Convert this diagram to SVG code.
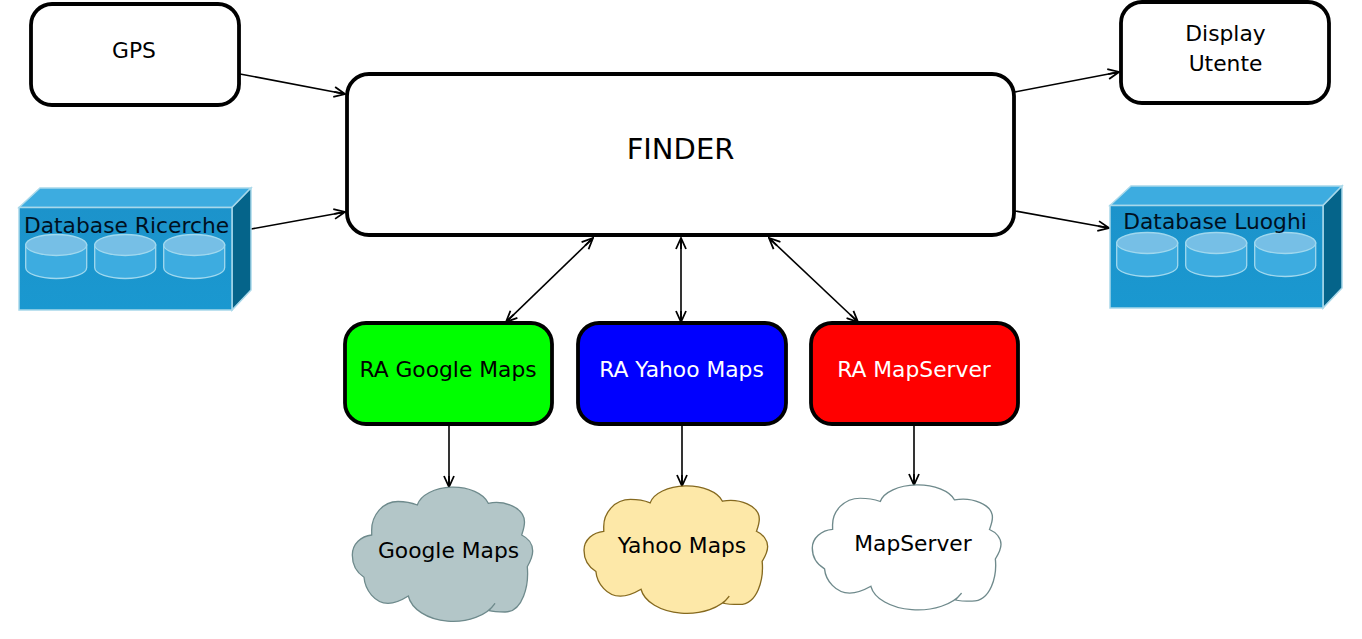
<svg xmlns="http://www.w3.org/2000/svg" width="1362" height="639" viewBox="0 0 1362 639">
<style>
text{font-family:"DejaVu Sans",sans-serif;fill:#000;text-anchor:middle}
.box{fill:#fff;stroke:#000;stroke-width:3.8}
.l{font-size:21.800px}
.lw{font-size:21.800px;fill:#fff}
.db{font-size:21.800px;fill:#00101f}
.c{stroke-width:1.300;vector-effect:non-scaling-stroke}
.con line{stroke:#000;stroke-width:1.600;fill:none;marker-end:url(#a)}
.con line.two{marker-start:url(#a)}
.cyl{fill:#3dace0;stroke:#a0d8ee;stroke-width:1.300}
.cylt{fill:#76bfe6;stroke:#a0d8ee;stroke-width:1.300}
</style>
<defs>
<marker id="a" viewBox="-12 -6 13 12" refX="0" refY="0" markerUnits="userSpaceOnUse" markerWidth="13" markerHeight="12" orient="auto-start-reverse">
<path d="M-11 -5L0 0L-11 5M-11 0L0 0" fill="none" stroke="#000" stroke-width="1.800"/>
</marker>
<linearGradient id="f" x1="0" y1="0" x2="0" y2="1"><stop offset="0" stop-color="#1c93cb"/><stop offset="1" stop-color="#1a98d0"/></linearGradient>
<path id="cloud" d="M417.300 505A36.500 22 0 0 1 488.300 503.300C505 500 524.500 508 524.500 522C524.500 527 523 531 521.700 535C528 538 532.700 544 532.700 551C532.700 557 530 562 527.300 566.700C529 585 523 612 505 612C499 612 494 612 489 610.700L495 603.300A45.500 30 0 0 1 408.300 596C402 600 396 603.300 388 603.300C375 603.300 365 590 364 577.300C356 572 352.300 564 352.300 555C352.300 544 361 536 371.700 535L371.700 531.700C371 515 383 501.500 398 501.500C405 501.500 411 502.500 417.300 505Z"/>
<g id="cyls">
<path class="cyl" d="M25.700 245V267.500C25.700 274 40 278.500 56.200 278.500C72.400 278.500 86.700 274 86.700 267.500V245Z"/>
<ellipse class="cylt" cx="56.200" cy="245" rx="30.500" ry="10.500"/>
</g>
<g id="dbbox">
<path d="M19 207.500L40 188H251L232 207.500Z" fill="#3dace0" stroke="#a8d8ea" stroke-width="1.500"/>
<path d="M232 207.500L251 188V290L232 310Z" fill="#05648a" stroke="#a8d8ea" stroke-width="1.500"/>
<rect x="19" y="207.500" width="213" height="102.500" fill="url(#f)" stroke="#a8d8ea" stroke-width="1.500"/>
<use href="#cyls"/>
<use href="#cyls" x="69"/>
<use href="#cyls" x="138"/>
</g>
</defs>
<rect width="1362" height="639" fill="#fff"/>
<g id="connectors" class="con">
<line x1="240" y1="74" x2="345" y2="94"/>
<line x1="251" y1="229" x2="345" y2="212"/>
<line x1="1015" y1="92" x2="1119" y2="72"/>
<line x1="1015" y1="211" x2="1109" y2="228"/>
<line class="two" x1="593" y1="238" x2="506" y2="322"/>
<line class="two" x1="681" y1="238" x2="681" y2="322"/>
<line class="two" x1="769" y1="238" x2="858" y2="322"/>
<line x1="449" y1="425" x2="449" y2="487"/>
<line x1="682" y1="425" x2="682" y2="486"/>
<line x1="914" y1="425" x2="914" y2="485"/>
</g>
<g id="gps"><rect class="box" x="31" y="4" width="208" height="101" rx="21"/><text class="l" x="134" y="58">GPS</text></g>
<g id="finder"><rect class="box" x="347" y="74" width="667" height="161" rx="22"/><text x="680.500" y="159" font-size="29">FINDER</text></g>
<g id="display"><rect class="box" x="1121" y="2" width="208" height="101" rx="21"/><text class="l" x="1225.500" y="41">Display</text><text class="l" x="1225.500" y="71">Utente</text></g>
<g id="db-ricerche"><use href="#dbbox"/><text class="db" x="126.500" y="233">Database Ricerche</text></g>
<g id="db-luoghi"><use href="#dbbox" x="1091" y="-2"/><text class="db" x="1215" y="229">Database Luoghi</text></g>
<g id="ra-google"><rect class="box" x="345" y="323" width="207" height="101" rx="21" style="fill:#0f0"/><text class="l" x="448" y="377">RA Google Maps</text></g>
<g id="ra-yahoo"><rect class="box" x="578" y="323" width="208" height="101" rx="21" style="fill:#00f"/><text class="lw" x="681.500" y="377">RA Yahoo Maps</text></g>
<g id="ra-mapserver"><rect class="box" x="811" y="323" width="207" height="101" rx="21" style="fill:#f00"/><text class="lw" x="914" y="377">RA MapServer</text></g>
<g id="cloud-google"><use href="#cloud" class="c" fill="#b3c6c8" stroke="#6e8a8c"/><text class="l" x="448.500" y="558">Google Maps</text></g>
<g id="cloud-yahoo"><g transform="translate(584 486) scale(1.018 .95) translate(-352.300 -487.300)"><use href="#cloud" class="c" fill="#fde8a8" stroke="#85691f"/></g><text class="l" x="682" y="553">Yahoo Maps</text></g>
<g id="cloud-mapserver"><g transform="translate(812.300 485) scale(1.046 .932) translate(-352.300 -487.300)"><use href="#cloud" class="c" fill="#fff" stroke="#6f8a8c"/></g><text class="l" x="913" y="551">MapServer</text></g>
</svg>
